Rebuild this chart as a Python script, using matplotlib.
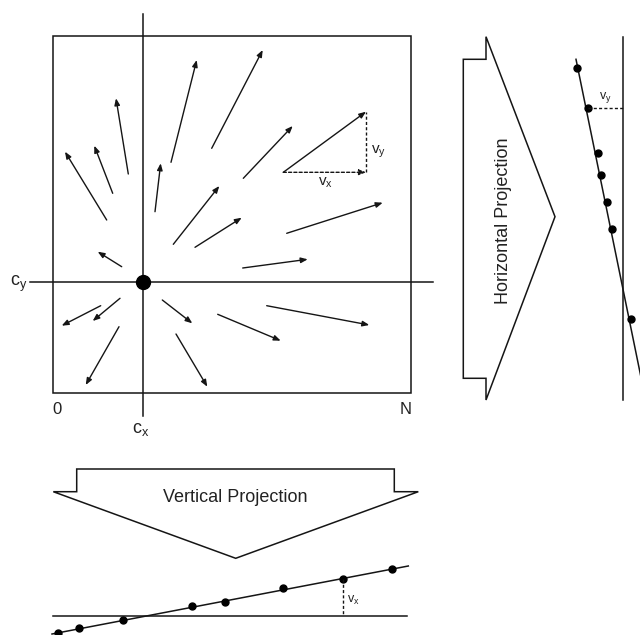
import numpy as np
import matplotlib
matplotlib.use('Agg')
import matplotlib.pyplot as plt
from matplotlib.patches import Polygon

plt.rcParams['font.family'] = ['Liberation Sans', 'DejaVu Sans']
plt.rcParams['mathtext.fontset'] = 'custom'
plt.rcParams['mathtext.rm'] = 'Liberation Sans'
plt.rcParams['mathtext.it'] = 'Liberation Sans'

# flow field: arrow tails and heads (pixel coords, y down)
tails_x = [106.7, 112.7, 128.3, 155.0, 171.0, 211.7, 243.3, 283.3, 173.3, 195.0,
           286.7, 242.7, 121.7, 100.7, 120.0, 119.0, 162.3, 217.7, 266.7, 176.0]
tails_y = [220.0, 193.3, 174.0, 211.7, 162.3, 148.3, 178.3, 172.3, 244.3, 247.3,
           233.3, 268.0, 266.7, 305.7, 298.3, 326.7, 300.0, 314.3, 305.7, 334.0]
heads_x = [65.0, 94.3, 116.0, 160.7, 196.7, 262.7, 292.7, 366.0, 219.3, 241.7,
           382.7, 307.7, 97.7, 61.7, 92.7, 85.7, 192.3, 280.7, 369.3, 207.3]
heads_y = [151.7, 145.7, 98.3, 163.3, 60.0, 50.0, 126.0, 111.7, 186.0, 217.7,
           202.7, 259.3, 251.7, 325.7, 321.0, 385.0, 323.3, 340.7, 325.0, 386.7]

box = (53, 36, 411, 393)
cx, cy = 142.7, 282.0

# horizontal projection
hp_line = [(576.0, 59.3), (644.0, 392.0)]
hp_dots_x = [576.7, 588.3, 597.7, 600.7, 606.7, 612.3, 630.5]
hp_dots_y = [67.7, 108.0, 152.7, 175.0, 201.7, 229.3, 319.2]
hp_axis_x = 623.0

# vertical projection
vp_line = [(52.0, 634.0), (408.3, 566.0)]
vp_dots_x = [58.3, 79.3, 123.3, 192.3, 225.0, 283.3, 342.7, 391.7]
vp_dots_y = [632.7, 627.7, 620.3, 605.7, 602.0, 588.3, 579.0, 569.0]
vp_axis_y = 615.7

fig = plt.figure(figsize=(6.4, 6.35), dpi=100)
ax = fig.add_axes([0, 0, 1, 1])
ax.set_xlim(0, 640)
ax.set_ylim(635, 0)
ax.axis('off')

lw = 1.1
k = '#151515'
tc = '#222222'
dash = (0, (2.2, 1.6))

ax.add_patch(plt.Rectangle((box[0], box[1]), box[2] - box[0], box[3] - box[1],
                           fill=False, ec=k, lw=lw))
ax.plot([cx, cx], [14, 416], color=k, lw=lw)
ax.plot([30, 433], [cy, cy], color=k, lw=lw)
ax.plot(cx, cy, 'o', color='black', ms=10)

arrow_kw = dict(arrowstyle='-|>,head_length=0.5,head_width=0.2', color=k, lw=1.0,
                mutation_scale=8, shrinkA=0, shrinkB=0)
for x0, y0, x1, y1 in zip(tails_x, tails_y, heads_x, heads_y):
    ax.annotate('', xy=(x1, y1), xytext=(x0, y0), arrowprops=arrow_kw)

# dashed components of one arrow
dash_kw = dict(arrow_kw, ls=dash)
ax.annotate('', xy=(heads_x[7], tails_y[7]), xytext=(tails_x[7], tails_y[7]),
            arrowprops=dash_kw)
ax.plot([heads_x[7], heads_x[7]], [tails_y[7], heads_y[7]], color=k, lw=1.0, ls=dash)
ax.text(325, 183, r'$\mathrm{v_x}$', fontsize=11, color=tc, ha='center', va='center')
ax.text(379, 152, r'$\mathrm{v_y}$', fontsize=11, color=tc, ha='center', va='center')

ax.text(57, 410, '0', fontsize=12, color=tc, ha='center', va='center')
ax.text(406, 410, 'N', fontsize=12, color=tc, ha='center', va='center')
ax.text(141, 429, r'$\mathrm{c_x}$', fontsize=13, color=tc, ha='center', va='center')
ax.text(19, 284, r'$\mathrm{c_y}$', fontsize=13, color=tc, ha='center', va='center')

# horizontal projection arrow
hp_poly = [(463.3, 59.3), (486, 59.3), (486, 36.7), (555, 216.7),
           (486, 400), (486, 378.3), (463.3, 378.3)]
ax.add_patch(Polygon(hp_poly, closed=True, fill=False, ec=k, lw=lw))
ax.text(503.5, 221, 'Horizontal Projection', rotation=90, fontsize=13, color=tc,
        ha='center', va='center')

ax.plot([hp_axis_x, hp_axis_x], [36.7, 400], color=k, lw=lw)
ax.plot([p[0] for p in hp_line], [p[1] for p in hp_line], color=k, lw=lw)
ax.plot(hp_dots_x, hp_dots_y, 'o', color='black', ms=5)
ax.plot([hp_dots_x[1], hp_axis_x], [hp_dots_y[1], hp_dots_y[1]], color=k, lw=1.0, ls=dash)
ax.text(605, 98, r'$\mathrm{v_y}$', fontsize=9, color=tc, ha='center', va='center')

# vertical projection arrow
vp_poly = [(53.3, 491.7), (76.7, 491.7), (76.7, 469), (394.3, 469),
           (394.3, 491.7), (418.3, 491.7), (235.7, 558.3)]
ax.add_patch(Polygon(vp_poly, closed=True, fill=False, ec=k, lw=lw))
ax.text(235.5, 497, 'Vertical Projection', fontsize=13, color=tc,
        ha='center', va='center')

ax.plot([52.7, 406.7], [vp_axis_y, vp_axis_y], color=k, lw=lw)
ax.plot([p[0] for p in vp_line], [p[1] for p in vp_line], color=k, lw=lw)
ax.plot(vp_dots_x, vp_dots_y, 'o', color='black', ms=5)
ax.plot([vp_dots_x[6], vp_dots_x[6]], [vp_dots_y[6], vp_axis_y], color=k, lw=1.0, ls=dash)
ax.text(353, 600, r'$\mathrm{v_x}$', fontsize=9, color=tc, ha='center', va='center')

fig.savefig('out.png', dpi=100)
